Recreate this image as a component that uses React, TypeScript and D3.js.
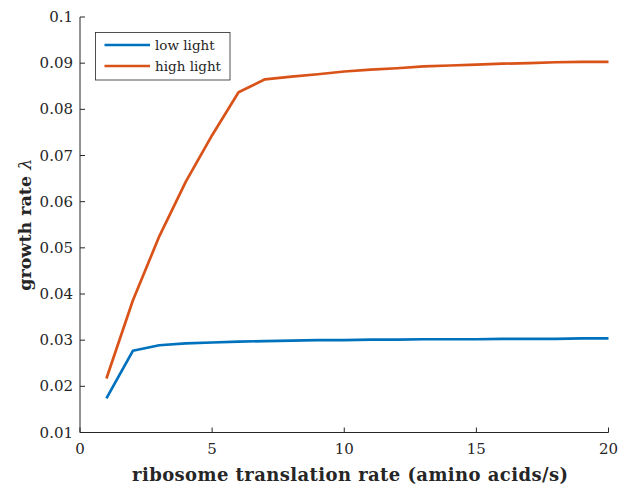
import React from "react";
import * as d3 from "d3";

const xs = [1, 2, 3, 4, 5, 6, 7, 8, 9, 10, 11, 12, 13, 14, 15, 16, 17, 18, 19, 20];
const lowLight = [0.0174, 0.0277, 0.0289, 0.0293, 0.0295, 0.0297, 0.0298, 0.0299, 0.03, 0.03, 0.0301, 0.0301, 0.0302, 0.0302, 0.0302, 0.0303, 0.0303, 0.0303, 0.0304, 0.0304];
const highLight = [0.0217, 0.0386, 0.0525, 0.0643, 0.0744, 0.0837, 0.0865, 0.0871, 0.0876, 0.0882, 0.0886, 0.0889, 0.0893, 0.0895, 0.0897, 0.0899, 0.09, 0.0902, 0.0903, 0.0903];
const xTicks = [0, 5, 10, 15, 20];
const yTicks = [0.01, 0.02, 0.03, 0.04, 0.05, 0.06, 0.07, 0.08, 0.09, 0.1];
const seriesNames = ["low light", "high light"];
const colors = ["#0072BD", "#D95319"];

const W = 619, H = 488;
const left = 80, right = 608.5, top = 17, bottom = 432.5;
const axisColor = "#262626";
const font = "'DejaVu Serif', 'Liberation Serif', serif";

export default function App() {
  const x = d3.scaleLinear().domain([0, 20]).range([left, right]);
  const y = d3.scaleLinear().domain([0.01, 0.1]).range([bottom, top]);
  const line = d3.line<number>().x((_, i) => x(xs[i])).y((d) => y(d));
  const series = [lowLight, highLight];
  return (
    <svg width={W} height={H} style={{ position: "absolute", left: 0, top: 0, background: "#fff" }}>
      <rect x={0} y={0} width={W} height={H} fill="#fff" />
      {series.map((s, i) => (
        <path key={i} d={line(s) || ""} fill="none" stroke={colors[i]} strokeWidth={2.7} strokeLinejoin="round" />
      ))}
      <line x1={left} x2={right} y1={bottom} y2={bottom} stroke={axisColor} strokeWidth={1} />
      <line x1={left} x2={left} y1={top} y2={bottom} stroke={axisColor} strokeWidth={1} />
      {xTicks.map((t) => (
        <g key={t}>
          <line x1={x(t)} x2={x(t)} y1={bottom} y2={bottom - 5} stroke={axisColor} />
          <text x={x(t)} y={bottom + 21} textAnchor="middle" fontFamily={font} fontSize={15} fill={axisColor}>{t}</text>
        </g>
      ))}
      {yTicks.map((t) => (
        <g key={t}>
          <line x1={left} x2={left + 5} y1={y(t)} y2={y(t)} stroke={axisColor} />
          <text x={left - 7} y={y(t) + 5} textAnchor="end" fontFamily={font} fontSize={15} fill={axisColor}>{d3.format("~g")(t)}</text>
        </g>
      ))}
      <text x={350} y={481} textAnchor="middle" fontFamily={font} fontSize={18} fontWeight="bold" fill={axisColor} textLength={436} lengthAdjust="spacing">ribosome translation rate (amino acids/s)</text>
      <text transform={`translate(31,${(top + bottom) / 2}) rotate(-90)`} textAnchor="middle" fontFamily={font} fontSize={17.5} fontWeight="bold" fill={axisColor}>growth rate <tspan fontStyle="italic" fontWeight="normal">λ</tspan></text>
      <rect x={95.5} y={32.5} width={134.5} height={47.5} fill="#fff" stroke={axisColor} strokeWidth={0.8} />
      {seriesNames.map((n, i) => (
        <g key={n}>
          <line x1={104.5} x2={150} y1={45 + i * 21} y2={45 + i * 21} stroke={colors[i]} strokeWidth={2.7} />
          <text x={155} y={50 + i * 21} fontFamily={font} fontSize={13.5} fill={axisColor}>{n}</text>
        </g>
      ))}
    </svg>
  );
}
